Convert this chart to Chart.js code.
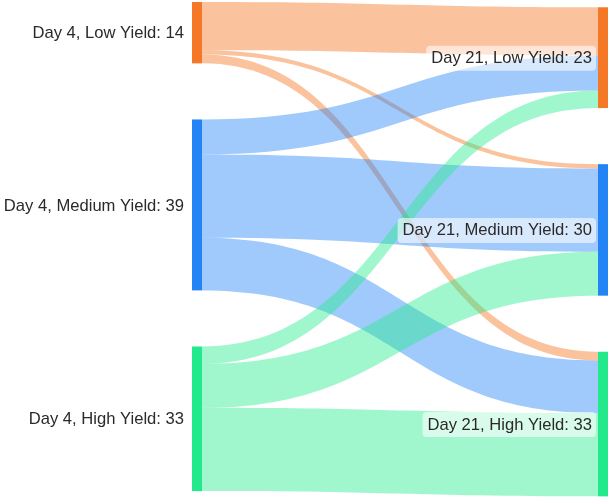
<!DOCTYPE html>
<html>
<head>
<meta charset="utf-8">
<script src="https://cdn.jsdelivr.net/npm/chart.js@4"></script>
<style>
  html, body { margin: 0; padding: 0; background: #fff; }
  #wrap { width: 610px; height: 499px; }
</style>
</head>
<body>
<div id="wrap"><canvas id="myChart"></canvas></div>
<script>
// nodes
const sources = ['Day 4, Low Yield', 'Day 4, Medium Yield', 'Day 4, High Yield'];
const targets = ['Day 21, Low Yield', 'Day 21, Medium Yield', 'Day 21, High Yield'];
// links (source index -> target index)
const flowFrom = [0, 0, 0, 1, 1, 1, 2, 2, 2];
const flowTo = [0, 1, 2, 0, 1, 2, 0, 1, 2];
const flowValue = [11, 1, 2, 8, 19, 12, 4, 10, 19];

const nodeColors = ['rgb(245,120,38)', 'rgb(34,132,245)', 'rgb(34,234,140)'];
const flowColors = ['rgba(245,120,38,0.45)', 'rgba(34,132,245,0.43)', 'rgba(34,234,140,0.43)'];

const gap = 12.8;      // space between nodes, in value units
const rightShift = 1.2; // right column sits a little lower
const nodeW = 10;      // px

function sumBy(idx, key) {
    let out = [];
    for (let i = 0; i < key.length; i++) {
        let s = 0;
        for (let j = 0; j < flowValue.length; j++) {
            if (idx[j] === i) s += flowValue[j];
        }
        out.push(s);
    }
    return out;
}
const srcTotals = sumBy(flowFrom, sources);
const tgtTotals = sumBy(flowTo, targets);

function stack(totals, start) {
    let pos = [], y = start;
    for (let i = 0; i < totals.length; i++) {
        pos.push(y);
        y += totals[i] + gap;
    }
    return pos;
}
const srcTop = stack(srcTotals, 0);
const tgtTop = stack(tgtTotals, rightShift);

const sankeyPlugin = {
    id: 'sankey',
    beforeDatasetsDraw(chart) {
        const ctx = chart.ctx;
        const xs = chart.scales.x, ys = chart.scales.y;
        let srcOff = srcTop.slice(), tgtOff = tgtTop.slice();
        let x0 = xs.getPixelForValue(0) + nodeW;
        let x1 = xs.getPixelForValue(1);
        let xm = (x0 + x1) / 2;

        // flows
        for (let j = 0; j < flowValue.length; j++) {
            let s = flowFrom[j], t = flowTo[j], v = flowValue[j];
            let sy0 = ys.getPixelForValue(srcOff[s]);
            let sy1 = ys.getPixelForValue(srcOff[s] + v);
            let ty0 = ys.getPixelForValue(tgtOff[t]);
            let ty1 = ys.getPixelForValue(tgtOff[t] + v);
            srcOff[s] += v;
            tgtOff[t] += v;
            ctx.beginPath();
            ctx.moveTo(x0, sy0);
            ctx.bezierCurveTo(xm, sy0, xm, ty0, x1, ty0);
            ctx.lineTo(x1, ty1);
            ctx.bezierCurveTo(xm, ty1, xm, sy1, x0, sy1);
            ctx.closePath();
            ctx.fillStyle = flowColors[s];
            ctx.fill();
        }

        // nodes
        for (let i = 0; i < sources.length; i++) {
            let a = ys.getPixelForValue(srcTop[i]), b = ys.getPixelForValue(srcTop[i] + srcTotals[i]);
            ctx.fillStyle = nodeColors[i];
            ctx.fillRect(xs.getPixelForValue(0), a, nodeW, b - a);
            a = ys.getPixelForValue(tgtTop[i]);
            b = ys.getPixelForValue(tgtTop[i] + tgtTotals[i]);
            ctx.fillRect(x1, a, nodeW, b - a);
        }
    },
    afterDatasetsDraw(chart) {
        const ctx = chart.ctx;
        const xs = chart.scales.x, ys = chart.scales.y;
        ctx.font = '16.6px "Liberation Sans", Arial, sans-serif';
        ctx.textAlign = 'right';
        ctx.textBaseline = 'middle';
        for (let i = 0; i < sources.length; i++) {
            let y = ys.getPixelForValue(srcTop[i] + srcTotals[i] / 2);
            ctx.fillStyle = '#2a2a2a';
            ctx.fillText(sources[i] + ': ' + srcTotals[i], xs.getPixelForValue(0) - 8, y + 1);
        }
        for (let i = 0; i < targets.length; i++) {
            let y = ys.getPixelForValue(tgtTop[i] + tgtTotals[i] / 2);
            let txt = targets[i] + ': ' + tgtTotals[i];
            let right = xs.getPixelForValue(1) - 6;
            let w = ctx.measureText(txt).width;
            ctx.fillStyle = 'rgba(255,255,255,0.6)';
            ctx.beginPath();
            ctx.roundRect(right - w - 5, y - 12, w + 9, 25, 4);
            ctx.fill();
            ctx.fillStyle = '#2a2a2a';
            ctx.fillText(txt, right, y + 1);
        }
    }
};

const ctx = document.getElementById('myChart').getContext('2d');
const chart = new Chart(ctx, {
    type: 'scatter',
    data: {
        datasets: [{
            data: [{x: 0, y: 0}, {x: 1, y: 0}],
            pointRadius: 0
        }]
    },
    options: {
        responsive: true,
        maintainAspectRatio: false,
        animation: false,
        layout: { padding: 0 },
        plugins: { legend: { display: false }, tooltip: { enabled: false } },
        scales: {
            x: { display: false, min: -192 / 406, max: 418 / 406 },
            y: { display: false, reverse: true, min: -0.46, max: 113.4 }
        }
    },
    plugins: [sankeyPlugin]
});
</script>
</body>
</html>
